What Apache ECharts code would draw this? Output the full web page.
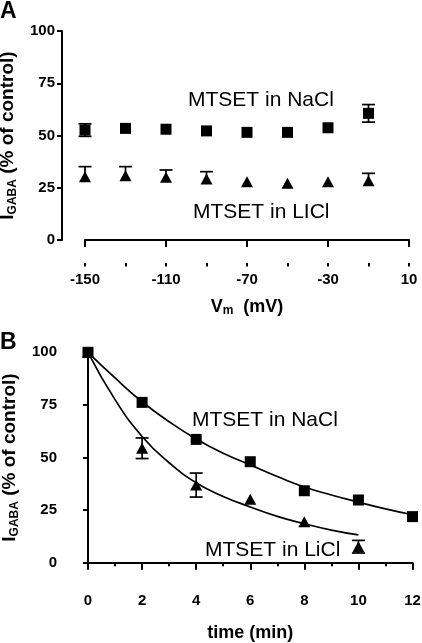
<!DOCTYPE html>
<html><head><meta charset="utf-8">
<script src="https://cdn.jsdelivr.net/npm/echarts@6/dist/echarts.min.js"></script>
<style>html,body{margin:0;padding:0;background:#fff}#c{width:422px;height:643px}</style>
</head><body><div id="c"></div>
<script>
// ---------- Panel A data ----------
const vmCategories = ['-150','-130','-110','-90','-70','-50','-30','-10','10'];
const vmNaCl      = [52.6, 53.4, 53.0, 52.2, 51.5, 51.5, 53.7, 60.6];
const vmNaClErr   = [3.0, 0, 0, 0, 0, 0, 0, 4.2];
const vmLiCl      = [30.3, 30.8, 30.0, 29.2, 27.9, 27.1, 27.9, 28.4];
const vmLiClErrUp = [4.8, 4.3, 3.5, 3.5, 0, 0, 0, 3.5];
// ---------- Panel B data ----------
const timeNaCl = [0, 2, 4, 6, 8, 10, 12];
const valNaCl  = [100, 76.2, 58.6, 48.0, 34.2, 29.8, 21.9];
const timeLiCl = [0, 2, 4, 6, 8, 10];
const valLiCl  = [100, 54.4, 36.9, 30.1, 19.5, 7.6];
const errLiCl  = [0, 4.9, 5.7, 0, 0, 3.0];
// fitted curves
const fitTimeNaCl = [0,1,2,3,4,5,6,7,8,9,10,11,12];
const fitNaCl     = [100, 87.8, 76.5, 67, 58.8, 52, 46.5, 41, 36, 32.2, 28.8, 25.6, 22.8];
const fitTimeLiCl = [0,1,2,3,4,5,6,7,8,9,10];
const fitLiCl     = [100, 77.5, 60, 47.5, 38, 31.5, 26.5, 22, 18.5, 15.5, 13.2];
// ticks
const yTicks = [0, 25, 50, 75, 100];

const FONT = 'Liberation Sans';
const BLACK = '#000';

function errRender(params, api) {
  const x = api.value(0), m = api.value(1), lo = api.value(2), hi = api.value(3);
  const pT = api.coord([x, hi]), pB = api.coord([x, lo]);
  const w = 6.5;
  const st = { stroke: BLACK, lineWidth: 1.7 };
  const ch = [{ type: 'line', shape: { x1: pT[0], y1: pT[1], x2: pB[0], y2: pB[1] }, style: st }];
  if (hi > m) ch.push({ type: 'line', shape: { x1: pT[0] - w, y1: pT[1], x2: pT[0] + w, y2: pT[1] }, style: st });
  if (lo < m) ch.push({ type: 'line', shape: { x1: pB[0] - w, y1: pB[1], x2: pB[0] + w, y2: pB[1] }, style: st });
  return { type: 'group', children: ch };
}

function lbl(extra) {
  return Object.assign({ show: true, fontFamily: FONT, fontWeight: 'bold', fontSize: 15, color: BLACK }, extra || {});
}
const yName = '{a|I}{b|GABA}{c| (% of control)}';
const yRich = {
  a: { fontFamily: FONT, fontWeight: 'bold', fontSize: 19, color: BLACK, lineHeight: 23 },
  b: { fontFamily: FONT, fontWeight: 'bold', fontSize: 12, color: BLACK, lineHeight: 11, verticalAlign: 'bottom' },
  c: { fontFamily: FONT, fontWeight: 'bold', fontSize: 19, color: BLACK, lineHeight: 23 }
};
function yAxisCfg(gridIndex, offset) {
  return {
    type: 'value', gridIndex, min: 0, max: 100, interval: 25, offset,
    position: 'left',
    name: yName, nameLocation: 'middle', nameGap: 42,
    nameTextStyle: { rich: yRich },
    axisLine: { show: true, lineStyle: { color: BLACK, width: 2 } },
    axisTick: { show: true, length: 5, lineStyle: { color: BLACK, width: 2 } },
    axisLabel: lbl({ margin: 7 }),
    splitLine: { show: false }
  };
}

const option = {
  animation: false,
  backgroundColor: '#fff',
  textStyle: { fontFamily: FONT, fontSize: 15, fontWeight: 'bold', color: BLACK },
  grid: [
    { left: 85, right: 13, top: 31, height: 209, containLabel: false, outerBoundsMode: 'none' },
    { left: 88, right: 9.5, top: 352.3, height: 210.4, containLabel: false, outerBoundsMode: 'none' }
  ],
  xAxis: [
    {
      type: 'category', gridIndex: 0, data: vmCategories, boundaryGap: false,
      position: 'bottom', offset: 23,
      name: '{v|V}{m|m}{t|  (mV)}', nameLocation: 'middle', nameGap: 34,
      nameTextStyle: { rich: {
        v: { fontFamily: FONT, fontWeight: 'bold', fontSize: 18, color: BLACK, lineHeight: 20 },
        m: { fontFamily: FONT, fontWeight: 'bold', fontSize: 12, color: BLACK, lineHeight: 10, verticalAlign: 'bottom' },
        t: { fontFamily: FONT, fontWeight: 'bold', fontSize: 18, color: BLACK, lineHeight: 20 }
      } },
      axisLine: { show: true, lineStyle: { color: BLACK, width: 2 } },
      axisTick: { show: true, interval: 1, length: 7, lineStyle: { color: BLACK, width: 2 } },
      axisLabel: lbl({ interval: 1, margin: 9 }),
      splitLine: { show: false }
    },
    {
      type: 'category', gridIndex: 0, data: vmCategories, boundaryGap: false,
      position: 'bottom', offset: 23,
      axisLine: { show: false },
      axisTick: { show: true, interval: 0, length: 3.5, lineStyle: { color: BLACK, width: 2 } },
      axisLabel: { show: false },
      splitLine: { show: false }
    },
    {
      type: 'value', gridIndex: 1, min: 0, max: 12, interval: 2,
      position: 'bottom', offset: 22,
      name: 'time (min)', nameLocation: 'middle', nameGap: 39,
      nameTextStyle: { fontFamily: FONT, fontWeight: 'bold', fontSize: 18, color: BLACK },
      axisLine: { show: true, lineStyle: { color: BLACK, width: 2 } },
      axisTick: { show: true, length: 7, lineStyle: { color: BLACK, width: 2 } },
      minorTick: { show: true, splitNumber: 2, length: 3.5, lineStyle: { color: BLACK, width: 2 } },
      axisLabel: lbl({ margin: 9 }),
      splitLine: { show: false }, minorSplitLine: { show: false }
    }
  ],
  yAxis: [yAxisCfg(0, 23), yAxisCfg(1, 24)],
  graphic: [
    { type: 'text', left: 0, top: 0, style: { text: 'A', font: 'bold 23px "Liberation Sans"', fill: BLACK } },
    { type: 'text', left: 0, top: 331, style: { text: 'B', font: 'bold 23px "Liberation Sans"', fill: BLACK } },
    { type: 'text', x: 188, y: 100, style: { text: 'MTSET in NaCl', font: '21px "Liberation Sans"', fill: BLACK, verticalAlign: 'middle' } },
    { type: 'text', x: 193, y: 212, style: { text: 'MTSET in LICl', font: '21px "Liberation Sans"', fill: BLACK, verticalAlign: 'middle' } },
    { type: 'text', x: 192, y: 420, style: { text: 'MTSET in NaCl', font: '21px "Liberation Sans"', fill: BLACK, verticalAlign: 'middle' } },
    { type: 'text', x: 205, y: 550, style: { text: 'MTSET in LiCl', font: '21px "Liberation Sans"', fill: BLACK, verticalAlign: 'middle' } }
  ],
  series: [
    // Panel A
    { type: 'custom', xAxisIndex: 0, yAxisIndex: 0, renderItem: errRender, z: 2,
      data: vmNaCl.map((v, i) => [i, v, v - vmNaClErr[i], v + vmNaClErr[i]]).filter((d, i) => vmNaClErr[i] > 0) },
    { type: 'custom', xAxisIndex: 0, yAxisIndex: 0, renderItem: errRender, z: 2,
      data: vmLiCl.map((v, i) => [i, v, v, v + vmLiClErrUp[i]]).filter((d, i) => vmLiClErrUp[i] > 0) },
    { type: 'scatter', xAxisIndex: 0, yAxisIndex: 0, symbol: 'rect', symbolSize: 11, z: 3,
      itemStyle: { color: BLACK, opacity: 1 }, data: vmNaCl.map((v, i) => [vmCategories[i], v]) },
    { type: 'scatter', xAxisIndex: 0, yAxisIndex: 0, symbol: 'triangle', symbolSize: [12, 11], z: 3,
      itemStyle: { color: BLACK, opacity: 1 }, data: vmLiCl.map((v, i) => [vmCategories[i], v]) },
    // Panel B
    { type: 'line', xAxisIndex: 2, yAxisIndex: 1, smooth: true, showSymbol: false, z: 1,
      lineStyle: { color: BLACK, width: 1.7 }, data: fitTimeNaCl.map((t, i) => [t, fitNaCl[i]]) },
    { type: 'line', xAxisIndex: 2, yAxisIndex: 1, smooth: true, showSymbol: false, z: 1,
      lineStyle: { color: BLACK, width: 1.7 }, data: fitTimeLiCl.map((t, i) => [t, fitLiCl[i]]) },
    { type: 'custom', xAxisIndex: 2, yAxisIndex: 1, renderItem: errRender, z: 2,
      data: valLiCl.map((v, i) => [timeLiCl[i], v, v - errLiCl[i], v + errLiCl[i]]).filter((d, i) => errLiCl[i] > 0) },
    { type: 'scatter', xAxisIndex: 2, yAxisIndex: 1, symbol: 'triangle', symbolSize: [12, 11], z: 3,
      itemStyle: { color: BLACK, opacity: 1 }, data: timeLiCl.map((t, i) => [t, valLiCl[i]]) },
    { type: 'scatter', xAxisIndex: 2, yAxisIndex: 1, symbol: 'rect', symbolSize: 11, z: 4,
      itemStyle: { color: BLACK, opacity: 1 }, data: timeNaCl.map((t, i) => [t, valNaCl[i]]) }
  ]
};
const chart = echarts.init(document.getElementById('c'), null, { renderer: 'canvas' });
chart.setOption(option);
</script>
</body></html>
